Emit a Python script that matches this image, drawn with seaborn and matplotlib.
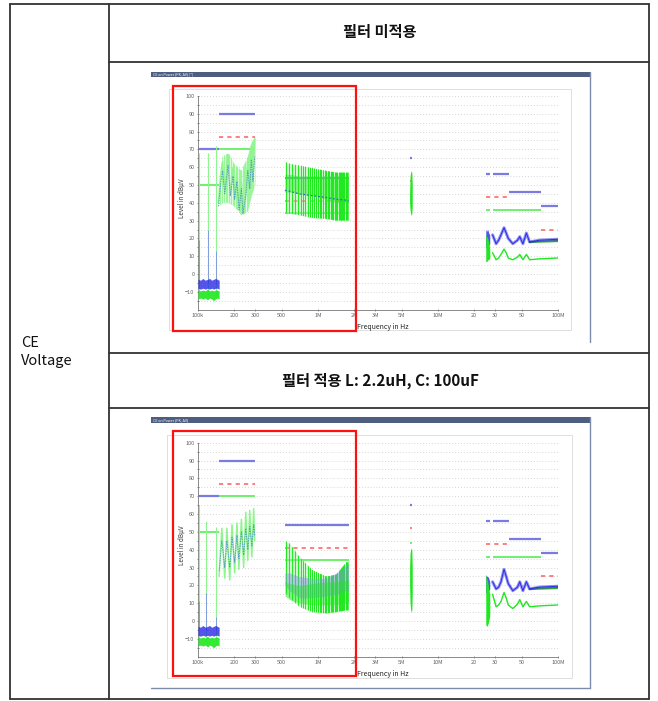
import matplotlib
matplotlib.use('Agg')
import matplotlib.pyplot as plt
import seaborn as sns
import numpy as np
from matplotlib.patches import Rectangle
from matplotlib.lines import Line2D

sns.set_theme(style='white')
plt.rcParams['font.family'] = ['Noto Sans CJK KR', 'DejaVu Sans']

W, H = 658, 701

# ---- limit lines (start Hz, stop Hz, level dBuV) ----
PK_LIM_START = [100e3, 150e3, 530e3, 5.8e6, 25e6, 28.7e6, 39e6, 72e6]
PK_LIM_STOP = [150e3, 300e3, 1.8e6, 6.1e6, 27e6, 39e6, 72e6, 100e6]
PK_LIM_LEVEL = [70, 90, 54, 65, 56, 56, 46, 38]
AV_LIM_START = [150e3, 530e3, 5.8e6, 25e6, 72e6]
AV_LIM_STOP = [300e3, 1.8e6, 6.1e6, 39e6, 100e6]
AV_LIM_LEVEL = [77, 41, 52, 43, 25]
QP_LIM_START = [100e3, 150e3, 530e3, 5.8e6, 25e6, 28.7e6]
QP_LIM_STOP = [150e3, 300e3, 1.8e6, 6.1e6, 27e6, 72e6]
QP_LIM_LEVEL = [50, 70, 34, 44, 36, 36]

# ---- 100k-150k noise floor ----
LF_FREQ = [100e3, 105e3, 110e3, 115e3, 120e3, 125e3, 130e3, 135e3, 140e3, 145e3, 150e3]
PK_FLOOR_HI = [-3, -3.5, -2.5, -3.5, -3, -2.5, -3.5, -3, -2.5, -3, -3.5]
PK_FLOOR_LO = [-8, -8.5, -8, -8.5, -8, -8.5, -8, -8.5, -8, -8, -8.5]
QP_FLOOR_HI = [-9, -9.5, -9, -9.5, -8.5, -9.5, -9, -9.5, -9, -9, -9.5]
QP_FLOOR_LO = [-14, -13.5, -14, -13.5, -14.5, -13.5, -14, -15, -14, -13.5, -14]

# spikes in 100k-150k
P1_SPIKE_FREQ = [102e3, 121e3, 142e3]
P1_SPIKE_QP = [68, 68, 72]
P1_SPIKE_PK = [19, 25, 13]
P2_SPIKE_FREQ = [102e3, 117e3, 140e3]
P2_SPIKE_QP = [65, 56, 53]
P2_SPIKE_PK = [11, 16, 2]

# ---- 150k-300k band ----
LW_LINES = [152e3, 158e3, 164e3, 170e3, 176e3, 182e3, 188e3, 194e3, 200e3, 206e3,
            212e3, 218e3, 224e3, 230e3, 236e3, 242e3, 248e3, 254e3, 260e3, 266e3,
            272e3, 278e3, 284e3, 290e3, 296e3]
P1_LW_FREQ = [148e3, 154e3, 160e3, 167e3, 178e3, 186e3, 196e3, 202e3, 211e3, 220e3,
              230e3, 237e3, 250e3, 260e3, 270e3, 278e3, 287e3, 297e3]
P1_LW_QP = [40, 55, 63, 46, 67, 44, 60, 42, 57, 37, 52, 34, 45, 65, 48, 72, 53, 76]
P1_LW_PK = [38, 50, 58, 45, 61, 44, 55, 42, 52, 36, 48, 34, 44, 58, 48, 64, 52, 66]
P1_LW_ENV_FREQ = [150e3, 160e3, 180e3, 200e3, 230e3, 260e3, 280e3, 300e3]
P1_LW_ENV_HI = [45, 66, 68, 62, 58, 66, 74, 77]
P1_LW_ENV_LO = [38, 40, 40, 38, 33, 35, 44, 50]

P2_LW_FREQ = [150e3, 158e3, 167e3, 174e3, 184e3, 192e3, 202e3, 211e3, 219e3, 230e3,
              240e3, 250e3, 260e3, 270e3, 281e3, 291e3, 297e3]
P2_LW_QP = [25, 52, 24, 52, 23, 54, 27, 55, 29, 57, 30, 61, 34, 62, 36, 63, 45]
P2_LW_PK = [28, 45, 30, 45, 30, 47, 33, 48, 35, 50, 37, 52, 40, 53, 42, 54, 48]

# ---- 530k-1.8M band ----
MW_LINES = [540e3, 575e3, 610e3, 645e3, 680e3, 715e3, 750e3, 785e3, 820e3, 855e3,
            890e3, 925e3, 960e3, 995e3, 1030e3, 1065e3, 1100e3, 1135e3, 1170e3,
            1205e3, 1240e3, 1275e3, 1310e3, 1345e3, 1380e3, 1415e3, 1450e3, 1485e3,
            1520e3, 1555e3, 1590e3, 1625e3, 1660e3, 1695e3, 1730e3, 1765e3, 1800e3]
MW_FREQ = [530e3, 580e3, 700e3, 900e3, 1.17e6, 1.42e6, 1.72e6, 1.8e6]
P1_MW_HI = [63, 62, 61, 59.5, 58, 57, 57, 57]
P1_MW_LO = [34, 34, 33, 31.5, 31, 30, 30, 30]
P1_MW_CORE_HI = [56, 56, 55, 55, 55, 55, 55, 55]
P1_MW_CORE_LO = [46, 46, 45, 44, 42, 40, 40, 40]
P1_MW_PK = [47, 46.5, 45, 44, 43, 42, 41.5, 41]
P2_MW_HI = [45, 43.5, 36, 28.5, 25, 26, 33, 33]
P2_MW_LO = [16, 13, 8, 5, 4.3, 5, 6, 6]
P2_MW_PK_HI = [27, 27, 25, 24, 24, 27, 31, 32]
P2_MW_PK_LO = [20, 17, 13, 13, 14, 15, 17, 17]
P2_MW_CORE_HI = [22, 21, 20, 21, 22, 22, 23, 23]
P2_MW_CORE_LO = [14, 12, 10, 9, 9, 9, 10, 10]

# ---- 5.9M-6.1M ----
SW_FREQ = [5.8e6, 5.85e6, 5.95e6, 6.05e6, 6.1e6]
P1_SW_HI = [45, 55, 58, 57, 50]
P1_SW_LO = [40, 36, 33, 34, 38]
P2_SW_HI = [30, 38, 41, 40, 30]
P2_SW_LO = [20, 10, 5, 6, 15]

# ---- 25M-100M ----
BURST_FREQ = [25e6, 25.5e6, 26e6, 26.5e6, 27e6]
P1_BURST_PK_HI = [25, 24, 25, 23, 22]
P1_BURST_PK_LO = [15, 14, 15, 16, 17]
P1_BURST_QP_HI = [22, 21, 20, 18, 14]
P1_BURST_QP_LO = [7, 7, 8, 8, 9]
P2_BURST_PK_HI = [26, 25, 25, 24, 22]
P2_BURST_PK_LO = [16, 15, 16, 17, 18]
P2_BURST_QP_HI = [26, 24, 22, 18, 15]
P2_BURST_QP_LO = [-2, -3, -2, 0, 3]
HF_FREQ = [28.5e6, 30.5e6, 32e6, 33.5e6, 35.5e6, 37e6, 38.5e6, 42e6, 46e6, 48e6, 51e6,
           54.5e6, 58e6, 70e6, 100e6]
P1_HF_PK = [22, 17, 19, 22, 26, 23, 20, 17, 19, 21, 17, 23, 18, 19, 19.5]
P1_HF_QP = [12, 8, 9, 11, 14, 12, 9, 8, 9.5, 11, 8, 11, 8, 8.5, 9]
P2_HF_PK = [22, 18, 19, 22, 29, 25, 21, 17, 19, 22, 17, 22, 18, 19, 19.5]
P2_HF_QP = [15, 8, 9, 11, 16, 13, 9, 7, 9.5, 12, 8, 11, 8, 8.5, 9]
HF_AV_FREQ = [58e6, 100e6]
HF_AV = [18, 18.5]

X_TICKS = [1e5, 2e5, 3e5, 5e5, 1e6, 2e6, 3e6, 5e6, 1e7, 2e7, 3e7, 5e7, 1e8]
X_LABELS = ['100k', '200', '300', '500', '1M', '2M', '3M', '5M', '10M', '20', '30', '50', '100M']
Y_TICKS = [-10, 0, 10, 20, 30, 40, 50, 60, 70, 80, 90, 100]

GREEN = '#1fe81f'
LGREEN = '#8ff58f'
BLUE = '#2b2be8'
LBLUE = '#7f8fe8'
LIM_BLUE = '#7a7ae0'
LIM_RED = '#ff6a6a'
LIM_GREEN = '#6ef06e'


def fx(x):
    return x / W


def fy(y):
    return 1 - y / H


def draw_panel(ax, p):
    ax.set_xscale('log')
    ax.set_xlim(1e5, 1e8)
    ax.set_ylim(-20, 100)
    ax.patch.set_alpha(0)
    for s in ['top', 'right']:
        ax.spines[s].set_visible(False)
    for s in ['left', 'bottom']:
        ax.spines[s].set_color('#777777')
        ax.spines[s].set_linewidth(0.6)
    ax.set_xticks(X_TICKS)
    ax.set_xticklabels(X_LABELS)
    ax.minorticks_off()
    ax.set_yticks(Y_TICKS)
    ax.set_yticks(range(-15, 101, 5), minor=True)
    ax.tick_params(axis='both', which='major', labelsize=4, colors='#666666',
                   length=2, width=0.5, pad=1.5, direction='inout')
    ax.tick_params(axis='y', which='minor', length=1.2, width=0.4, direction='inout', left=True)
    ax.tick_params(axis='x', bottom=True)
    ax.tick_params(axis='y', left=True)
    ax.grid(True, axis='y', which='both', ls=(0, (1, 2.5)), color='#c8c8c8', lw=0.6)

    # limits
    ax.hlines(PK_LIM_LEVEL, PK_LIM_START, PK_LIM_STOP, color=LIM_BLUE, lw=1.6, zorder=2)
    ax.hlines(AV_LIM_LEVEL, AV_LIM_START, AV_LIM_STOP, color=LIM_RED, lw=1.2,
              linestyles=(0, (2.5, 2.5)), zorder=2)
    ax.hlines(QP_LIM_LEVEL, QP_LIM_START, QP_LIM_STOP, color=LIM_GREEN, lw=1.4, zorder=2)

    # 100k-150k floor and spikes
    ax.vlines(p['spike_f'], -12, p['spike_qp'], color=LGREEN, lw=0.8, zorder=3)
    ax.vlines(p['spike_f'], -5, p['spike_pk'], color=LBLUE, lw=0.6, zorder=3)
    ax.fill_between(LF_FREQ, PK_FLOOR_LO, PK_FLOOR_HI, color=BLUE, alpha=0.8, lw=0, zorder=3)
    ax.fill_between(LF_FREQ, QP_FLOOR_LO, QP_FLOOR_HI, color=GREEN, alpha=0.9, lw=0, zorder=3)

    # 150k-300k
    if 'lw_env_f' in p:
        lenv = ax.fill_between(p['lw_env_f'], p['lw_env_lo'], p['lw_env_hi'], color=LGREEN,
                               alpha=0.3, lw=0, zorder=3)
        llc = ax.vlines(LW_LINES, -20, 100, color=LGREEN, lw=0.6, zorder=3)
        llc.set_clip_path(lenv.get_paths()[0], ax.transData)
    sns.lineplot(x=p['lw_f'], y=p['lw_qp'], ax=ax, color=LGREEN, lw=1.1,
                 estimator=None, sort=False, zorder=3)
    sns.lineplot(x=p['lw_f'], y=p['lw_pk'], ax=ax, color='#4a86c8', lw=0.7, alpha=0.8,
                 estimator=None, sort=False, zorder=4, ls=(0, (1.5, 1)))

    # 530k-1.8M
    env = ax.fill_between(MW_FREQ, p['mw_lo'], p['mw_hi'], color=LGREEN, alpha=0.45,
                          lw=0, zorder=3)
    lc = ax.vlines(MW_LINES, -20, 100, color=GREEN, lw=0.7, zorder=3)
    lc.set_clip_path(env.get_paths()[0], ax.transData)
    if 'mw_pk_hi' in p:
        ax.fill_between(MW_FREQ, p['mw_pk_lo'], p['mw_pk_hi'], color=LBLUE, alpha=0.45,
                        lw=0, zorder=3)
    ax.fill_between(MW_FREQ, p['mw_core_lo'], p['mw_core_hi'], color=GREEN, alpha=0.45,
                    lw=0, zorder=4)
    if 'mw_pk' in p:
        sns.lineplot(x=MW_FREQ, y=p['mw_pk'], ax=ax, color='#3a6fb0', lw=0.9,
                     ls=(0, (1.5, 1.5)), estimator=None, zorder=4)

    # 5.9M
    ax.fill_between(SW_FREQ, p['sw_lo'], p['sw_hi'], color=GREEN, lw=0, zorder=3)

    # 25M-100M
    ax.fill_between(BURST_FREQ, p['burst_pk_lo'], p['burst_pk_hi'], color=BLUE, alpha=0.8,
                    lw=0, zorder=3)
    ax.fill_between(BURST_FREQ, p['burst_qp_lo'], p['burst_qp_hi'], color=GREEN, lw=0, zorder=4)
    sns.lineplot(x=HF_AV_FREQ, y=HF_AV, ax=ax, color='#2fa82f', lw=1.5, estimator=None, zorder=3)
    sns.lineplot(x=HF_FREQ, y=p['hf_pk'], ax=ax, color=BLUE, lw=2.2, alpha=0.5,
                 estimator=None, zorder=4)
    sns.lineplot(x=HF_FREQ, y=p['hf_pk'], ax=ax, color=BLUE, lw=0.7, estimator=None, zorder=4)
    sns.lineplot(x=HF_FREQ, y=p['hf_qp'], ax=ax, color=GREEN, lw=1.0, estimator=None, zorder=4)
    ax.set_xlabel('')
    ax.set_ylabel('')


fig = plt.figure(figsize=(W / 100, H / 100), dpi=100)
fig.patch.set_facecolor('white')


def px_line(x0, y0, x1, y1, color='#333333', lw=1.3):
    fig.add_artist(Line2D([fx(x0), fx(x1)], [fy(y0), fy(y1)], color=color, lw=lw,
                          transform=fig.transFigure))


def px_rect(x0, y0, x1, y1, **kw):
    r = Rectangle((fx(x0), fy(y1)), (x1 - x0) / W, (y1 - y0) / H,
                  transform=fig.transFigure, **kw)
    fig.add_artist(r)


# table grid
px_line(10, 4, 649, 4)
px_line(10, 699, 649, 699)
px_line(10, 4, 10, 699)
px_line(649, 4, 649, 699)
px_line(109, 4, 109, 699)
px_line(109, 62, 649, 62)
px_line(109, 353, 649, 353)
px_line(109, 408, 649, 408)

fig.text(fx(380), fy(32), '필터 미적용', ha='center', va='center', fontsize=11,
         fontweight='bold', color='#111111')
fig.text(fx(380), fy(381), '필터 적용 L: 2.2uH, C: 100uF', ha='center', va='center',
         fontsize=11, fontweight='bold', color='#111111')
fig.text(fx(21), fy(352), 'CE\nVoltage', ha='left', va='center', fontsize=10.5,
         color='#111111', linespacing=1.35)

panels = [
    dict(top=72, bar_h=5, win_bot=342, frame=(169, 89, 571, 330), red=(173, 86, 356, 331),
         ax_rect=(198, 96, 558, 309.6), title='CE on Power (PK, AV) [*]', bottom_line=False,
         spike_f=P1_SPIKE_FREQ, spike_qp=P1_SPIKE_QP, spike_pk=P1_SPIKE_PK,
         lw_f=P1_LW_FREQ, lw_qp=P1_LW_QP, lw_pk=P1_LW_PK,
         lw_env_f=P1_LW_ENV_FREQ, lw_env_lo=P1_LW_ENV_LO, lw_env_hi=P1_LW_ENV_HI,
         mw_hi=P1_MW_HI, mw_lo=P1_MW_LO, mw_core_hi=P1_MW_CORE_HI, mw_core_lo=P1_MW_CORE_LO,
         mw_pk=P1_MW_PK, sw_hi=P1_SW_HI, sw_lo=P1_SW_LO,
         burst_pk_hi=P1_BURST_PK_HI, burst_pk_lo=P1_BURST_PK_LO,
         burst_qp_hi=P1_BURST_QP_HI, burst_qp_lo=P1_BURST_QP_LO,
         hf_pk=P1_HF_PK, hf_qp=P1_HF_QP),
    dict(top=417, bar_h=6, win_bot=688, frame=(167, 435, 572, 678), red=(173, 431, 356, 676),
         ax_rect=(198, 442.7, 558, 656.7), title='CE on Power (PK, AV)', bottom_line=True,
         spike_f=P2_SPIKE_FREQ, spike_qp=P2_SPIKE_QP, spike_pk=P2_SPIKE_PK,
         lw_f=P2_LW_FREQ, lw_qp=P2_LW_QP, lw_pk=P2_LW_PK,
         mw_hi=P2_MW_HI, mw_lo=P2_MW_LO, mw_pk_hi=P2_MW_PK_HI, mw_pk_lo=P2_MW_PK_LO,
         mw_core_hi=P2_MW_CORE_HI, mw_core_lo=P2_MW_CORE_LO,
         sw_hi=P2_SW_HI, sw_lo=P2_SW_LO,
         burst_pk_hi=P2_BURST_PK_HI, burst_pk_lo=P2_BURST_PK_LO,
         burst_qp_hi=P2_BURST_QP_HI, burst_qp_lo=P2_BURST_QP_LO,
         hf_pk=P2_HF_PK, hf_qp=P2_HF_QP),
]

for p in panels:
    t = p['top']
    # window chrome
    px_rect(151, t, 590, t + p['bar_h'], facecolor='#4d5e80', edgecolor='none')
    fig.text(fx(153), fy(t + p['bar_h'] / 2), p['title'], fontsize=2.6, color='white',
             ha='left', va='center')
    px_line(590, t, 590, p['win_bot'], color='#7d8cab', lw=1.0)
    if p['bottom_line']:
        px_line(151, p['win_bot'], 590, p['win_bot'], color='#7d8cab', lw=1.0)
    x0, y0, x1, y1 = p['frame']
    px_rect(x0, y0, x1, y1, facecolor='none', edgecolor='#dedede', lw=0.7)

    ax0, ay0, ax1, ay1 = p['ax_rect']
    ax = fig.add_axes([fx(ax0), fy(ay1), (ax1 - ax0) / W, (ay1 - ay0) / H])
    draw_panel(ax, p)

    fig.text(fx(182), fy((ay0 + ay1) / 2 - 5), 'Level in dBµV', rotation=90, fontsize=4.5,
             ha='center', va='center', color='#333333')
    fig.text(fx(357), fy(ay1 + 17.5), 'Frequency in Hz', fontsize=5, ha='left',
             va='center', color='#222222')

    rx0, ry0, rx1, ry1 = p['red']
    px_rect(rx0, ry0, rx1, ry1, facecolor='none', edgecolor='#ff1010', lw=1.6)

fig.savefig('out.png', dpi=100)
